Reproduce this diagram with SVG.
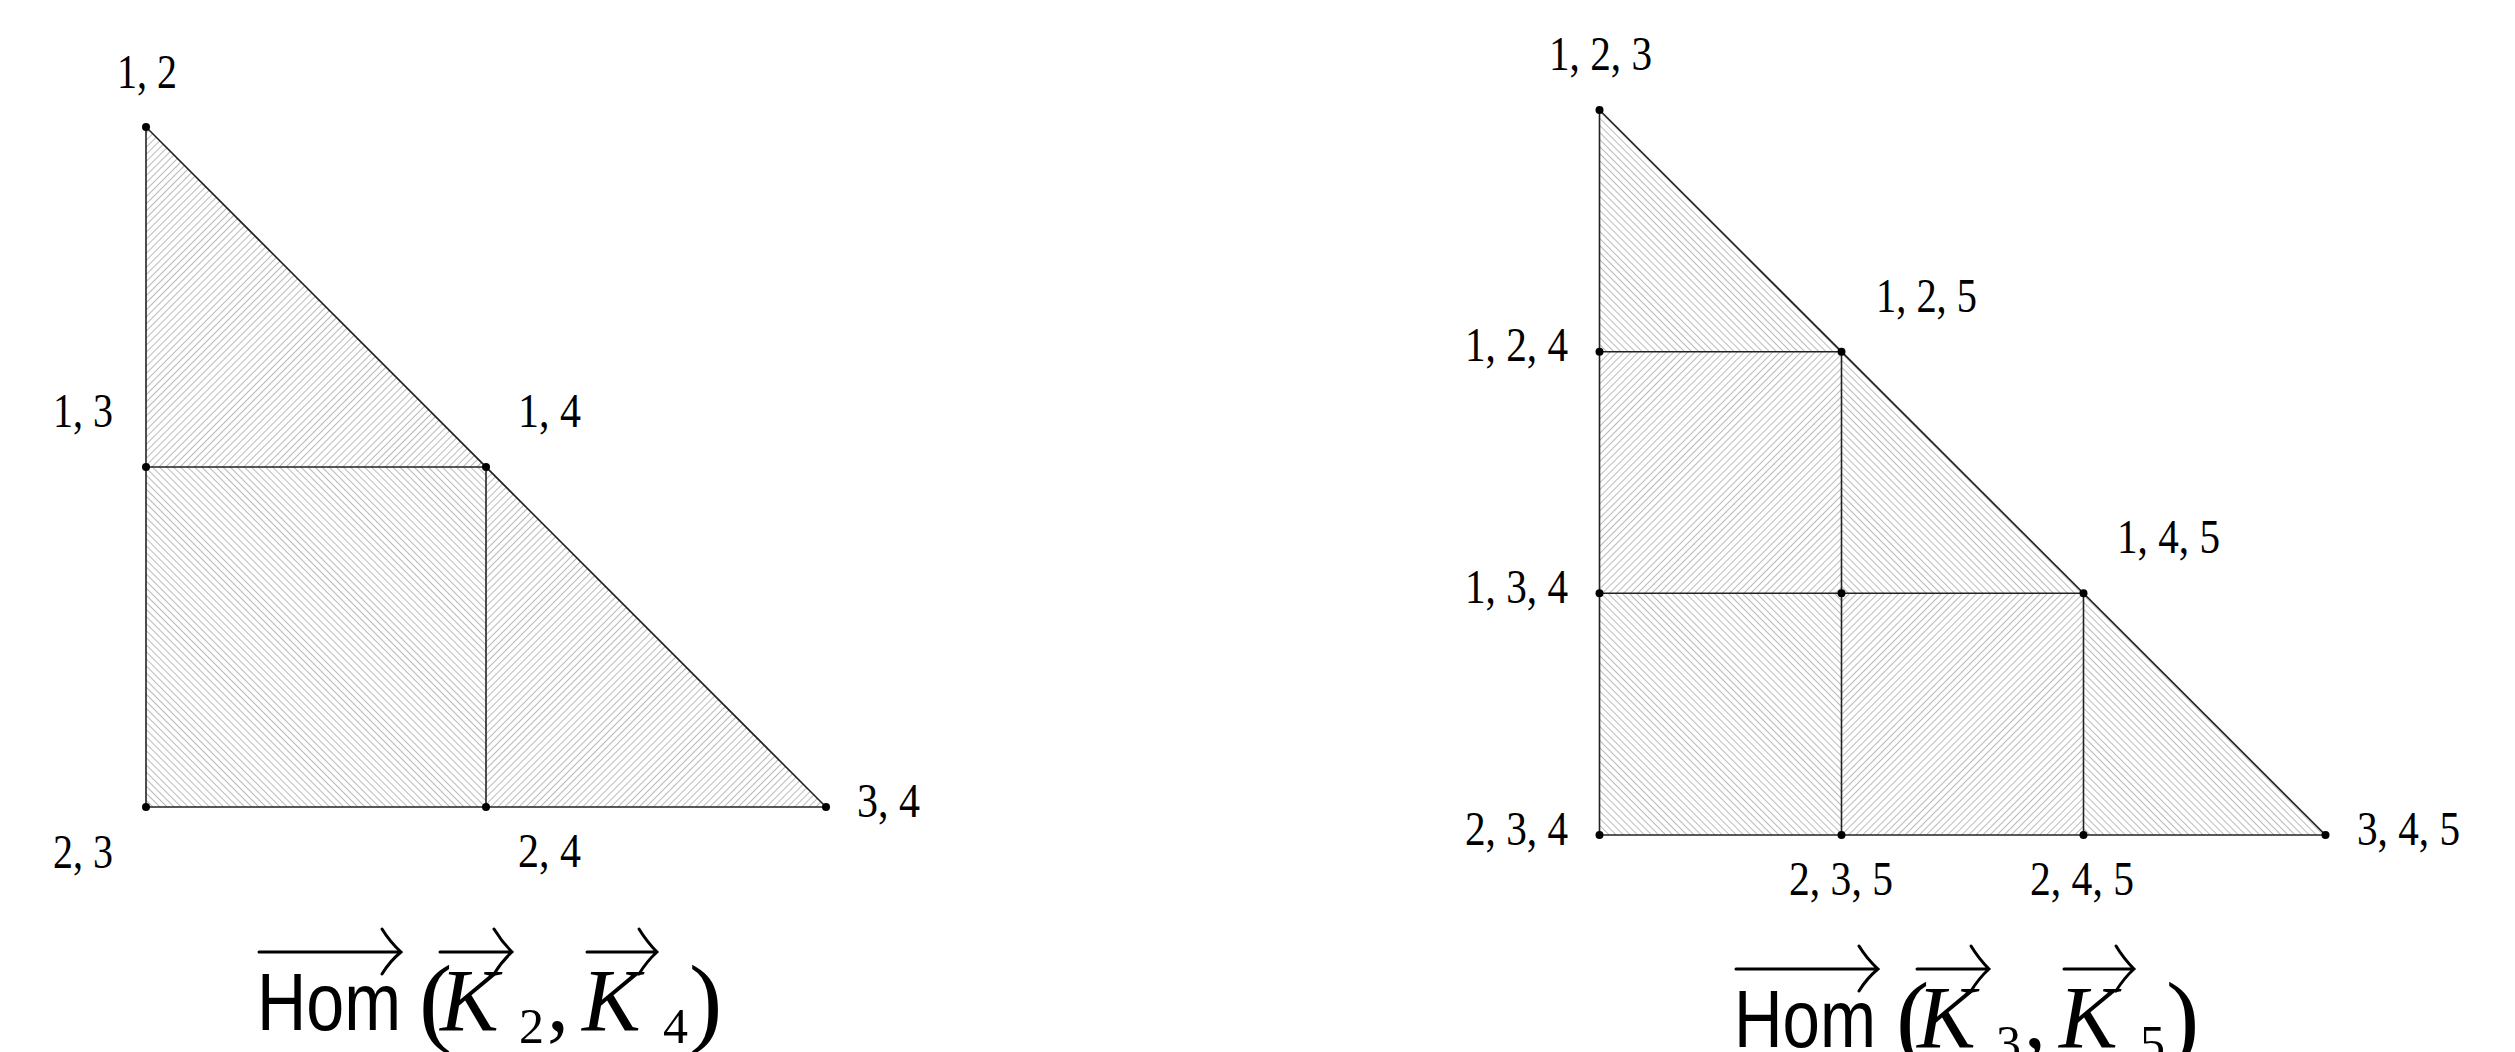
<svg xmlns="http://www.w3.org/2000/svg" width="2515" height="1052" viewBox="0 0 2515 1052">
<style>
.lbl{font-family:"Liberation Serif","DejaVu Serif",serif;font-size:48px;fill:#000}
.edge{stroke:#222;stroke-width:1.6;fill:none}
.dot{fill:#000}
.sans{font-family:"Liberation Sans","DejaVu Sans",sans-serif;font-size:82px;fill:#000}
.it{font-family:"Liberation Serif","DejaVu Serif",serif;font-style:italic;font-size:88px;fill:#000}
.rm{font-family:"Liberation Serif","DejaVu Serif",serif;font-size:88px;fill:#000}
.par{font-family:"Liberation Serif","DejaVu Serif",serif;font-size:100px;fill:#000}
.sub{font-family:"Liberation Serif","DejaVu Serif",serif;font-size:50px;fill:#000}
.arr{stroke:#000;stroke-width:3;fill:none;stroke-linecap:round}
</style>
<defs>
<pattern id="hR" patternUnits="userSpaceOnUse" width="5" height="5" patternTransform="rotate(45)">
<line x1="2.5" y1="-1" x2="2.5" y2="6" stroke="#a8a8a8" stroke-width="0.8"/>
</pattern>
<pattern id="hL" patternUnits="userSpaceOnUse" width="5" height="5" patternTransform="rotate(-45)">
<line x1="2.5" y1="-1" x2="2.5" y2="6" stroke="#a8a8a8" stroke-width="0.8"/>
</pattern>
</defs>
<rect width="2515" height="1052" fill="#fff"/>

<g id="faces-left">
<polygon points="146,127 146,467 486,467" fill="url(#hR)"/>
<rect x="146" y="467" width="340" height="340" fill="url(#hL)"/>
<polygon points="486,467 486,807 826,807" fill="url(#hR)"/>
</g>
<g id="faces-right">
<polygon points="1599.5,110 1599.5,351.7 1841.5,351.7" fill="url(#hL)"/>
<rect x="1599.5" y="351.7" width="242" height="241.6" fill="url(#hR)"/>
<polygon points="1841.5,351.7 1841.5,593.3 2083.5,593.3" fill="url(#hL)"/>
<rect x="1599.5" y="593.3" width="242" height="241.7" fill="url(#hL)"/>
<rect x="1841.5" y="593.3" width="242" height="241.7" fill="url(#hR)"/>
<polygon points="2083.5,593.3 2083.5,835 2325.5,835" fill="url(#hL)"/>
</g>

<g id="connectors">
<line class="edge" x1="146" y1="127" x2="146" y2="807"/>
<line class="edge" x1="146" y1="807" x2="826" y2="807"/>
<line class="edge" x1="146" y1="127" x2="826" y2="807"/>
<line class="edge" x1="146" y1="467" x2="486" y2="467"/>
<line class="edge" x1="486" y1="467" x2="486" y2="807"/>
<line class="edge" x1="1599.5" y1="110" x2="1599.5" y2="835"/>
<line class="edge" x1="1599.5" y1="835" x2="2325.5" y2="835"/>
<line class="edge" x1="1599.5" y1="110" x2="2325.5" y2="835"/>
<line class="edge" x1="1599.5" y1="351.7" x2="1841.5" y2="351.7"/>
<line class="edge" x1="1599.5" y1="593.3" x2="2083.5" y2="593.3"/>
<line class="edge" x1="1841.5" y1="351.7" x2="1841.5" y2="835"/>
<line class="edge" x1="2083.5" y1="593.3" x2="2083.5" y2="835"/>
</g>

<g id="n-12"><circle class="dot" cx="146" cy="127" r="4"/><text class="lbl" x="117" y="88" textLength="60" lengthAdjust="spacingAndGlyphs">1, 2</text></g>
<g id="n-13"><circle class="dot" cx="146" cy="467" r="4"/><text class="lbl" x="53" y="427" textLength="60" lengthAdjust="spacingAndGlyphs">1, 3</text></g>
<g id="n-14"><circle class="dot" cx="486" cy="467" r="4"/><text class="lbl" x="518" y="427" textLength="63" lengthAdjust="spacingAndGlyphs">1, 4</text></g>
<g id="n-23"><circle class="dot" cx="146" cy="807" r="4"/><text class="lbl" x="53" y="868" textLength="60" lengthAdjust="spacingAndGlyphs">2, 3</text></g>
<g id="n-24"><circle class="dot" cx="486" cy="807" r="4"/><text class="lbl" x="518" y="867" textLength="63" lengthAdjust="spacingAndGlyphs">2, 4</text></g>
<g id="n-34"><circle class="dot" cx="826" cy="807" r="4"/><text class="lbl" x="857" y="817" textLength="63" lengthAdjust="spacingAndGlyphs">3, 4</text></g>

<g id="n-123"><circle class="dot" cx="1599.5" cy="110" r="4"/><text class="lbl" x="1549" y="70" textLength="103" lengthAdjust="spacingAndGlyphs">1, 2, 3</text></g>
<g id="n-124"><circle class="dot" cx="1599.5" cy="351.7" r="4"/><text class="lbl" x="1465" y="361" textLength="103" lengthAdjust="spacingAndGlyphs">1, 2, 4</text></g>
<g id="n-125"><circle class="dot" cx="1841.5" cy="351.7" r="4"/><text class="lbl" x="1876" y="312" textLength="101" lengthAdjust="spacingAndGlyphs">1, 2, 5</text></g>
<g id="n-134"><circle class="dot" cx="1599.5" cy="593.3" r="4"/><text class="lbl" x="1465" y="603" textLength="103" lengthAdjust="spacingAndGlyphs">1, 3, 4</text></g>
<g id="n-mid"><circle class="dot" cx="1841.5" cy="593.3" r="4"/></g>
<g id="n-145"><circle class="dot" cx="2083.5" cy="593.3" r="4"/><text class="lbl" x="2117" y="553" textLength="103" lengthAdjust="spacingAndGlyphs">1, 4, 5</text></g>
<g id="n-234"><circle class="dot" cx="1599.5" cy="835" r="4"/><text class="lbl" x="1465" y="845" textLength="103" lengthAdjust="spacingAndGlyphs">2, 3, 4</text></g>
<g id="n-235"><circle class="dot" cx="1841.5" cy="835" r="4"/><text class="lbl" x="1789" y="895" textLength="104" lengthAdjust="spacingAndGlyphs">2, 3, 5</text></g>
<g id="n-245"><circle class="dot" cx="2083.5" cy="835" r="4"/><text class="lbl" x="2030" y="895" textLength="104" lengthAdjust="spacingAndGlyphs">2, 4, 5</text></g>
<g id="n-345"><circle class="dot" cx="2325.5" cy="835" r="4"/><text class="lbl" x="2357" y="845" textLength="103" lengthAdjust="spacingAndGlyphs">3, 4, 5</text></g>

<g id="title-left">
<text class="sans" x="257" y="1030" textLength="144" lengthAdjust="spacingAndGlyphs">Hom</text>
<text class="par" x="419" y="1034">(</text>
<text class="it" x="440" y="1030">K</text>
<text class="sub" x="519" y="1043">2</text>
<text class="rm" x="547" y="1030">,</text>
<text class="it" x="582" y="1030">K</text>
<text class="sub" x="663" y="1043">4</text>
<text class="par" x="689" y="1034">)</text>
<path class="arr" d="M259,952 H400 M382,929 Q390,942 401,952 Q390,961 382,974"/>
<path class="arr" d="M440,952 H511 M494,929 Q502,942 512,952 Q502,961 494,974"/>
<path class="arr" d="M587,952 H656 M639,929 Q647,942 657,952 Q647,961 639,974"/>
</g>
<g id="title-right" transform="translate(1477,17)">
<text class="sans" x="257" y="1030" textLength="142" lengthAdjust="spacingAndGlyphs">Hom</text>
<text class="par" x="419" y="1034">(</text>
<text class="it" x="440" y="1030">K</text>
<text class="sub" x="519" y="1043">3</text>
<text class="rm" x="547" y="1030">,</text>
<text class="it" x="582" y="1030">K</text>
<text class="sub" x="663" y="1043">5</text>
<text class="par" x="689" y="1034">)</text>
<path class="arr" d="M259,952 H400 M382,929 Q390,942 401,952 Q390,961 382,974"/>
<path class="arr" d="M440,952 H511 M494,929 Q502,942 512,952 Q502,961 494,974"/>
<path class="arr" d="M587,952 H656 M639,929 Q647,942 657,952 Q647,961 639,974"/>
</g>
</svg>
